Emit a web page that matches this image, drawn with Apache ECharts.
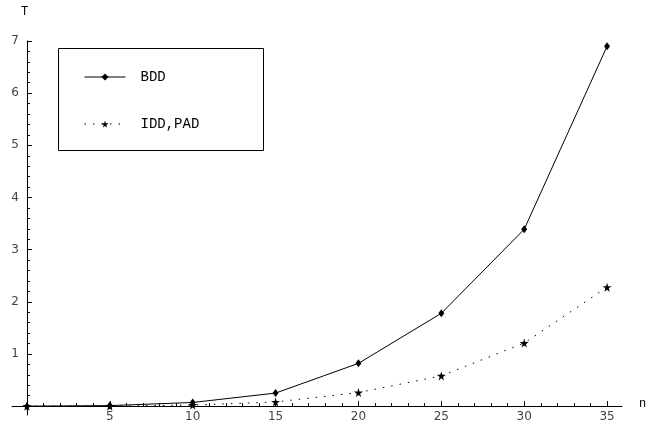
<!DOCTYPE html>
<html>
<head>
<meta charset="utf-8">
<script src="https://cdn.jsdelivr.net/npm/echarts@6/dist/echarts.min.js"></script>
<style>html,body{margin:0;padding:0;background:#fff}#c{width:646px;height:429px}</style>
</head>
<body>
<div id="c"></div>
<script>
var nValues = [0, 5, 10, 15, 20, 25, 30, 35];
var bddValues = [0, 0.01, 0.07, 0.25, 0.82, 1.78, 3.39, 6.9];
var iddPadValues = [0, 0.0, 0.02, 0.08, 0.26, 0.58, 1.21, 2.28];
var xTickLabels = [5, 10, 15, 20, 25, 30, 35];
var yTickLabels = [1, 2, 3, 4, 5, 6, 7];
var seriesNames = ['BDD', 'IDD,PAD'];

var W = 646, H = 429;
var G = {left: 12, right: 24, top: 41, bottom: 14};
var xMin = -0.9, xMax = 35.9, yMin = -0.17, yMax = 7;
// offsets that bring the major-tick axes onto the zero lines
var yAxisShift = -(0 - xMin) / (xMax - xMin) * (W - G.left - G.right);
var xAxisShift = -(0 - yMin) / (yMax - yMin) * (H - G.top - G.bottom);

var xMinor = [];
for (var i = 0; i <= 35; i++) xMinor.push(i);
var yMinor = [];
for (var j = 0; j <= 35; j++) yMinor.push(Math.round(j * 0.2 * 10) / 10);

var starPath = 'path://M50,0 L61,35 L98,35 L68,57 L79,91 L50,70 L21,91 L32,57 L2,35 L39,35 Z';
var labelFont = {fontFamily: 'DejaVu Sans', fontSize: 12, color: '#444'};

var chart = echarts.init(document.getElementById('c'));
chart.setOption({
  animation: false,
  backgroundColor: '#fff',
  grid: {left: G.left, right: G.right, top: G.top, bottom: G.bottom, containLabel: false, outerBoundsMode: 'none'},
  xAxis: [
    {type: 'value', min: xMin, max: xMax, position: 'bottom',
     axisLine: {onZero: true, lineStyle: {color: '#000', width: 1}},
     axisTick: {show: true, inside: true, length: 3, customValues: xMinor, lineStyle: {color: '#000'}},
     axisLabel: {show: false}, splitLine: {show: false}},
    {type: 'value', min: xMin, max: xMax, position: 'bottom', offset: xAxisShift,
     axisLine: {show: false, onZero: false},
     axisTick: {show: true, inside: true, length: 5, customValues: xTickLabels, lineStyle: {color: '#000'}},
     axisLabel: Object.assign({show: true, margin: 5, customValues: xTickLabels}, labelFont),
     splitLine: {show: false}}
  ],
  yAxis: [
    {type: 'value', min: yMin, max: yMax, position: 'left',
     axisLine: {onZero: true, lineStyle: {color: '#000', width: 1}},
     axisTick: {show: true, inside: true, length: 3, customValues: yMinor, lineStyle: {color: '#000'}},
     axisLabel: {show: false}, splitLine: {show: false}},
    {type: 'value', min: yMin, max: yMax, position: 'left', offset: yAxisShift,
     axisLine: {show: false, onZero: false},
     axisTick: {show: true, inside: true, length: 5, customValues: yTickLabels, lineStyle: {color: '#000'}},
     axisLabel: Object.assign({show: true, margin: 8, customValues: yTickLabels}, labelFont),
     splitLine: {show: false}}
  ],
  legend: {
    left: 79, top: 65, orient: 'vertical',
    itemWidth: 41, itemHeight: 9, itemGap: 33,
    lineStyle: {width: 1},
    textStyle: {fontFamily: 'Liberation Mono', fontSize: 14, color: '#000', padding: [0, 0, 0, 10]},
    data: seriesNames
  },
  graphic: [
    {type: 'rect', x: 0, y: 0, shape: {x: 58.5, y: 48.5, width: 205, height: 102},
     style: {fill: 'none', stroke: '#000', lineWidth: 1}, z: 1},
    {type: 'text', x: 21, y: 6, style: {text: 'T', font: '12px "Liberation Mono"', fill: '#000'}},
    {type: 'text', x: 639, y: 398, style: {text: 'n', font: '12px "Liberation Mono"', fill: '#000'}}
  ],
  series: [
    {name: seriesNames[0], type: 'line', xAxisIndex: 0, yAxisIndex: 0,
     data: nValues.map(function (n, k) { return [n, bddValues[k]]; }),
     symbol: 'diamond', symbolSize: [6, 8], showAllSymbol: true,
     lineStyle: {color: '#000', width: 1}, itemStyle: {color: '#000'}},
    {name: seriesNames[1], type: 'line', xAxisIndex: 0, yAxisIndex: 0,
     data: nValues.map(function (n, k) { return [n, iddPadValues[k]]; }),
     symbol: starPath, symbolSize: 9, showAllSymbol: true,
     lineStyle: {color: '#000', width: 1, type: [1.5, 7]}, itemStyle: {color: '#000'}}
  ]
});
</script>
</body>
</html>
